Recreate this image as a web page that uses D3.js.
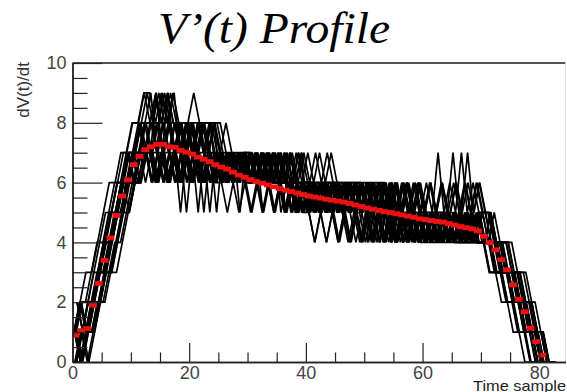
<!DOCTYPE html>
<html><head><meta charset="utf-8">
<script src="https://cdn.jsdelivr.net/npm/d3@7"></script>
<style>html,body{margin:0;padding:0;background:#fff;overflow:hidden}svg{display:block}</style>
</head><body>
<script>
// ---------------- data ----------------
const titleText = "V\u2019(t) Profile";
const yAxisTitle = "dV(t)/dt";
const xAxisTitle = "Time sample";
const xMajorTicks = [0, 20, 40, 60, 80];
const yMajorTicks = [0, 2, 4, 6, 8, 10];

// red profile: mean dV/dt per time-sample bin [i, i+1]
const meanValues = [0.9,1.05,1.12,1.9,2.63,3.4,4.15,4.9,5.55,6.09,
  6.6,6.88,7.1,7.2,7.28,7.28,7.2,7.18,7.08,7.02,
  6.95,6.85,6.78,6.7,6.6,6.52,6.45,6.35,6.25,6.18,
  6.1,6.03,5.98,5.92,5.86,5.8,5.75,5.7,5.65,5.6,
  5.55,5.52,5.48,5.44,5.41,5.38,5.35,5.3,5.25,5.2,
  5.15,5.11,5.07,5.03,5.0,4.96,4.92,4.88,4.84,4.79,
  4.76,4.73,4.7,4.68,4.63,4.58,4.53,4.49,4.45,4.38,
  4.2,3.99,3.75,3.42,3.08,2.58,2.1,1.68,1.13,0.68,
  0.23];

// small time alignment of each individual run (in samples)
const runTimeShift = [0, 0.22, -0.18, 0.3, -0.26, 0.1, -0.08, 0.16, -0.3, 0.26, -0.14, 0.04, 0.2, -0.22,
  0.12, -0.04, 0.28, -0.28, 0.08, -0.16, 0.24, -0.1, 0.02, 0.14, -0.2, 0.18];

// individual runs: quantised dV/dt per time sample (t = 0..82)
const run1  = [1,0,1,2,3,4,4,5,6,7,7,8,7, 8,7,8,7,8,7,8,7,8,7, 6,7,6,7,6,7,6,7,6,7, 6,5,6,5,6,5,6,5,6,5,6,5,6,5,6,5,6, 5,5,5,5,5,5,5,5,5,5,5,5,5,5,5, 5,4,5,4,5, 4,4,3,3,3,2,2,1,1,1,0,0,0];
const run2  = [0,1,2,2,3,4,5,6,7,7,7,8,7, 7,8,7,8,7,8,7,8, 6,7,6,7,6,7,6,7,6,7,6,7,6,7, 5,6,5,6,5,6,5,6,5,6,5,6,5,6,5,6,5,6,5,6, 5,5,5,5,5,5,5,5,5,5, 6,5,7,5,6, 5,4,4,4,3,3,3,2,2,1,0,0,0];
const run3  = [1,2,1,2,3,3,4,5,6,6,7,7,8, 8,8,8,8,8,8,8,8,8,8,8,8,8, 7,6,7,6,7,6,7,6,7, 6,5,6,5,6,5,6,5,6,5,6,5,6,5,6,5,6, 5,4,5,4,5,4,5,4,5,4,5,4,5,4,5,4,5,4, 4,4,3,3,2,2,1,1,1,0,0,0,0];
const run4  = [2,1,0,1,2,3,4,5,5,6,7,8,9, 8,9,8,9,8, 7,8,7,8,7,8,7, 6,7,6,7,6,7,6,7,6,7,6,7,6,7,6, 6,5,6,5,6,5,6,5,6,5,6,5,6,5,6,5,6,5,6,5, 5,5,5,5,5, 6,5,6,5,6, 5,4,4,3,3,3,2,2,1,1,0,0,0];
const run5  = [0,0,1,1,2,2,3,4,4,5,6,6,7, 7,6,7,6,7,6,7,6,7,6,7,6,7,6,7,6,7, 6,6,6,6,6,6,6,6,5,6,5,6,5,6,5,6,5, 4,5,4,5,4,5,4,5,4,5,4,5,4,5,4,5,4,5,4,5,4,5,4, 4,4,4,3,3,3,2,2,1,1,0,0,0];
const run6  = [1,0,1,2,3,4,5,5,6,6,7,6,7, 7,6,7,6,7,6,7,6,7,6,7,6,7,6,7,6,7, 6,6,6,6,6,6,6,6,6,6, 6,5,6,5,6,5,6,5,6,5,6,5,6,5,6, 4,5,4,5,4,5,4,5,4,5,4,5,4,5,4, 4,4,3,3,2,2,1,1,0,0,0,0,0];
const run7  = [1,2,1,1,2,3,3,4,5,6,6,7,8, 9,7,9,8,9, 7,8,7,8,7,8,7, 6,7,6,7,6,7,6,7,6,7,6,7, 5,6,5,6,5,6,5,6,5,6,5,6,5,6,5,6,5,6,5,6,5,6,5, 4,5,4,5,4,5, 4,4,4,4, 4,3,3,3,2,2,1,1,0,0,0,0,0];
const run8  = [1,2,2,3,4,5,5,6,6,7,6,7,7, 7,7,7,7,7,7,7,7,7,7,7,7,7,7,7,7,7, 6,7,6,7,6,7,6,7,6,7,6,7,6,7,6, 5,6,5,6,5,6,5,6,5,6,5,6,5,6,5,6,5,7,5,6,5,7,5,6,5, 5,5,4,4,4,3,3,2,2,1,1,0,0];
const run9  = [1,1,1,2,3,3,4,5,5,6,7,6,7, 7,6,7,6,7,6,7,6,7,6,7,6,7,6,7,6,7, 6,6,6,6,6,6,6,6,5,6,5,6,5,6,5,6,5,6,5,5, 4,5,4,5,4,5,4,5,4,5,4,5,4,5,4,5,4,5,4,5, 4,4,4,4,3,3,3,2,1,1,0,0,0];
const run10 = [2,1,1,2,2,3,4,5,6,6,6,6,7, 7,6,7,6,7,6,7,6,7,6,7,6,7,6,7,6,7, 6,6,6,6,6,6,6,6,5,6,5,6,5,6,5, 4,5,4,5,4,5,4,5,4,5,4,5,4,5,4, 4,4,4,4,4,4,4,4,4,4, 4,4,3,3,3,2,2,1,1,0,0,0,0];
const run11 = [1,0,1,2,3,4,4,5,6,6,7,7,8, 7,9,7,9,7,8,7,8, 7,6,7,6,7,6,7,6,7, 6,6,6,6,6,6,6,6,6,6,6,6,6,6,6,6,6,6,6,6, 5,6,5,6,5,6,5,6,5,6,5,6,5, 4,5,4,5,4,5,4, 4,4,4,3,3,2,2,1,1,1,0,0,0];
const run12 = [0,1,0,1,2,2,3,3,4,5,6,6,7, 6,7,6,7,6,7,5,7,5,7,5,7, 6,5,6,5,6,5,6,5,6,5,6,5,6,5,6, 5,4,5,4,5,4,5,4,5,4,5,4,5,4,5,4,5,4,5,4,5,4,5,4,5, 4,4,4,4,4, 4,3,3,3,2,1,1,0,0,0,0,0,0];
const run13 = [1,1,2,2,3,4,4,5,6,5,6,7,7, 7,6,7,6,7,6,7,6,7,6,7,5,7,6,7,5,7, 6,6,6,6,6,6,6,6,6,6, 6,5,6,5,6,5,6,5,6,5,6,5,6,5,6,5,6,5, 5,4,5,4,5,4,5,4,5,4,5,4, 4,5,4,4,4,3,3,3,2,1,1,0,0];
const run14 = [1,2,1,2,3,4,4,5,5,6,7,8,7, 8,9,8,9,8, 8,7,8,7,8,7,8, 6,7,6,7,6,7,6,7,6,7,6,7,6, 6,5,6,5,6,5,6,5,6,5,6,5,6,5,6,5,6, 4,5,4,5,4,5,4,5,4,5,4,5,4,5,4, 5,4,5,4,4,4,3,3,2,2,1,0,0];
const run15 = [0,1,2,2,3,3,4,5,6,6,7,7,8, 7,8,7,8,7,8,7,8,7,8, 7,6,7,6,7,6,7,6,7, 5,6,5,6,5,6,5,6,5,6,5,6,5,6,5,6,5,6,5, 5,4,5,4,5,4,5,4,5,4,5,4,5,4,5,4,5,4,5, 4,4,4,3,3,2,2,2,1,1,0,0,0];
const run16 = [1,0,1,2,2,3,4,5,6,7,6,7,8, 8,7,8,7,8,7,8,7, 7,6,7,6,7,6,7,6,7,6,7,6,7,6, 6,5,6,5,6,5,6,5,6,5,6,5,6,5,6,5,6,5,6,5,6,5, 5,4,5,4,5,4,5,4,5,4,5,4,5, 5,5,4,4,3,3,2,2,1,1,0,0,0];
const run17 = [2,1,1,2,3,4,4,5,6,7,7,8,8, 8,8,9,8,8,8,8,9,8,8,8,8, 7,6,7,6,7,6,7,6,7,6,7,6, 6,5,6,5,6,5,6,5,6,5,6,5,6,5,6,5,6, 4,5,4,5,4,5,4,5,4,5,4,5,4,5,4,5, 4,4,4,3,3,2,2,1,1,0,0,0,0];
const run18 = [1,2,2,3,4,4,5,6,6,7,8,8,9, 9,8,9,8,9, 8,7,8,7,8,7,8, 7,6,7,6,7,6,7,6,7,6,7,6,7,6,7, 5,6,5,6,5,6,5,6,5,6,5,6,5,6,5,6,5,6,5,6,5,6, 5,6,5,7,5,6,5,6, 5,5,4,4,3,3,3,2,2,1,0,0,0];
const run19 = [0,1,1,1,2,3,3,4,5,6,6,6,7, 6,7,6,7,6,7,6,7,6,7,6,7,6,7,6,7,6, 6,6,6,6,6,6,6,5,6,5,6,5,6,5,6,5,6, 5,4,5,4,5,4,5,4,5,4,5,4,5,4,5,4,5,4,5,4,5,4,5, 4,4,4,3,3,3,2,2,1,1,0,0,0];
const run20 = [1,0,1,2,3,4,5,5,6,6,7,7,7, 7,6,7,6,7,6,7,6,7,6,7,6,7,6,7,6,7, 7,6,7,6,7,6,7,6,7,6,7,6,7,6,7, 6,5,6,5,6,5,6,5,6,5,6,5,6,5,6,5,6,5,6,5,6,5,6,5,6, 5,5,4,4,4,3,3,2,2,1,1,0,0];
const run21 = [1,0,1,1,2,3,3,4,5,5,6,7,7, 6,7,6,7,6,7,6,7,6,7,6,7,6,7,6,7,6, 5,6,5,6,5,6,5,6,5,6,5,6,5,6,5,6,5,6,5,6, 4,5,4,5,4,5,4,5,4,5,4,5,4,5,4,5,4,5,4,5, 4,4,4,3,3,3,2,2,1,1,0,0,0];
const run22 = [0,1,1,2,3,3,4,5,5,6,6,7,7, 7,8,7,8,7,8,7,8,7,8,7,8,7, 6,7,6,7,6,7,6,7,6,7,6,7, 6,6,6,6,6,6,6,6,6,6,6,6,6,6,6, 6,5,6,5,6,5,6,5,6,5,6,5, 4,5,4,5,4, 4,4,3,3,3,2,2,1,1,0,0,0,0];
const run23 = [1,2,1,2,3,3,4,5,5,6,6,7,6, 7,6,7,6,7,5,7,6,7,5,7,6, 6,7,6,7,6,6,6,6,6,6,6,6,5,6,5, 5,4,5,4,5,4,5,4,5,4,5,4,5,4,5,4,5,4,5,4,5,4,5,4,5, 4,4,4,4,4, 4,3,3,2,2,2,1,1,0,0,0,0,0];
const run24 = [0,1,2,3,3,4,5,6,6,7,7,8,8, 8,7,8,7,8,7,8,7,8,7,8, 6,7,6,7,6,7,6,7,6,7,6,7, 6,6,6,6,6,6,6,6,6,6, 5,6,5,6,5,6,5,6,5,6,5,6,5,6,5, 4,5,4,5,4,5,4,5,4, 4,5,4,4,3,3,3,2,2,1,1,0,0];
const run25 = [1,2,3,3,4,5,6,6,7,7,8,8,9, 8,9,8,9,8,8, 7,8,7,8,7,8,7,8, 7,6,7,6,7,6,7,6,7,6,7,6,7,6, 6,5,6,5,6,5,6,5,6,5,6,5,6,5,6,5,6,5, 4,5,4,5,4,5,4,5,4,5,4, 5,4,4,4,4,3,3,2,2,1,1,0,0];
const run26 = [0,0,1,1,2,3,3,4,5,5,6,6,7, 7,6,7,6,7,6,7,6,7,6,7,6,7,6,7,6,7, 7,6,7,6,7,6,7,6,7,6, 5,6,5,6,5,6,5,6,5,6,5,6,5,6,5,6, 4,5,4,5,4,5,4,5,4,5,4,5,4,5, 4,4,3,3,3,2,2,1,1,0,0,0,0];
const runs = [run1, run2, run3, run4, run5, run6, run7, run8, run9, run10, run11, run12, run13,
  run14, run15, run16, run17, run18, run19, run20, run21, run22, run23, run24, run25, run26];

// ---------------- chart ----------------
const W = 567, H = 392;
const L = 72.5, R = 565.5, T = 63, B = 362;

const svg = d3.select("body").append("svg").attr("width", W).attr("height", H);
const x = d3.scaleLinear().domain([0, 84.5]).range([L, R]);
const y = d3.scaleLinear().domain([0, 10]).range([B, T]);

svg.append("defs").append("clipPath").attr("id", "clip")
  .append("rect").attr("x", L).attr("y", T).attr("width", R - L).attr("height", B - T + 1);

const plot = svg.append("g").attr("clip-path", "url(#clip)");

// individual runs
runs.forEach((r, k) => {
  const line = d3.line()
    .x((v, i) => x(i + 0.5 + runTimeShift[k]))
    .y(v => y(v));
  plot.append("path").datum(r)
    .attr("d", line)
    .attr("fill", "none")
    .attr("stroke", "#000")
    .attr("stroke-width", 1.7)
    .attr("stroke-linejoin", "miter");
});

// red mean profile
plot.selectAll("rect.mean").data(meanValues).join("rect")
  .attr("class", "mean")
  .attr("x", (d, i) => x(i) - 1)
  .attr("width", (d, i) => x(i + 1) - x(i) + 2)
  .attr("y", d => y(d) - 2.4)
  .attr("height", 4.8)
  .attr("fill", "#ee1111");

// frame
svg.append("line").attr("x1", L).attr("x2", R).attr("y1", T).attr("y2", T)
  .attr("stroke", "#555").attr("stroke-width", 2);
svg.append("line").attr("x1", R).attr("x2", R).attr("y1", T).attr("y2", B)
  .attr("stroke", "#e2e2e2").attr("stroke-width", 1);

const axisColor = "#222";
const labelFont = "'Liberation Sans', Arial, sans-serif";

function styleAxis(g, showLabels) {
  g.select(".domain").attr("stroke", axisColor).attr("stroke-width", 1.4);
  g.selectAll(".tick line").attr("stroke", axisColor).attr("stroke-width", 1.2);
  g.selectAll(".tick text").attr("fill", "#444").style("font-family", labelFont).style("font-size", "18px");
  if (!showLabels) g.selectAll(".tick text").remove();
}

// y axis: minor then major
const yMinor = d3.range(0, 10.01, 0.5).filter(v => v % 2 !== 0);
svg.append("g").attr("transform", `translate(${L},0)`)
  .call(d3.axisLeft(y).tickValues(yMinor).tickSize(-15).tickSizeOuter(0))
  .call(g => styleAxis(g, false));
svg.append("g").attr("transform", `translate(${L},0)`)
  .call(d3.axisLeft(y).tickValues(yMajorTicks).tickFormat(d3.format("d")).tickSize(-30).tickSizeOuter(0).tickPadding(6))
  .call(g => styleAxis(g, true));

// x axis: minor then major
const xMinor = d3.range(5, 84.5, 5).filter(v => v % 20 !== 0);
svg.append("g").attr("transform", `translate(0,${B})`)
  .call(d3.axisBottom(x).tickValues(xMinor).tickSize(-9.5).tickSizeOuter(0))
  .call(g => styleAxis(g, false));
svg.append("g").attr("transform", `translate(0,${B})`)
  .call(d3.axisBottom(x).tickValues(xMajorTicks).tickFormat(d3.format("d")).tickSize(-19).tickSizeOuter(0).tickPadding(4))
  .call(g => styleAxis(g, true));

// titles
svg.append("text").attr("x", 158).attr("y", 43)
  .style("font-family", "'Liberation Serif', 'Times New Roman', serif")
  .style("font-style", "italic").style("font-size", "44px")
  .attr("textLength", 232).attr("lengthAdjust", "spacingAndGlyphs")
  .attr("fill", "#000").text(titleText);

svg.append("text").attr("transform", "translate(28.5,62) rotate(-90)")
  .attr("text-anchor", "end")
  .style("font-family", labelFont).style("font-size", "17px")
  .attr("fill", "#333").text(yAxisTitle);

svg.append("text").attr("x", 473).attr("y", 390.5)
  .style("font-family", labelFont).style("font-size", "15px")
  .attr("textLength", 93).attr("lengthAdjust", "spacingAndGlyphs")
  .attr("fill", "#222").text(xAxisTitle);
</script>
</body></html>
